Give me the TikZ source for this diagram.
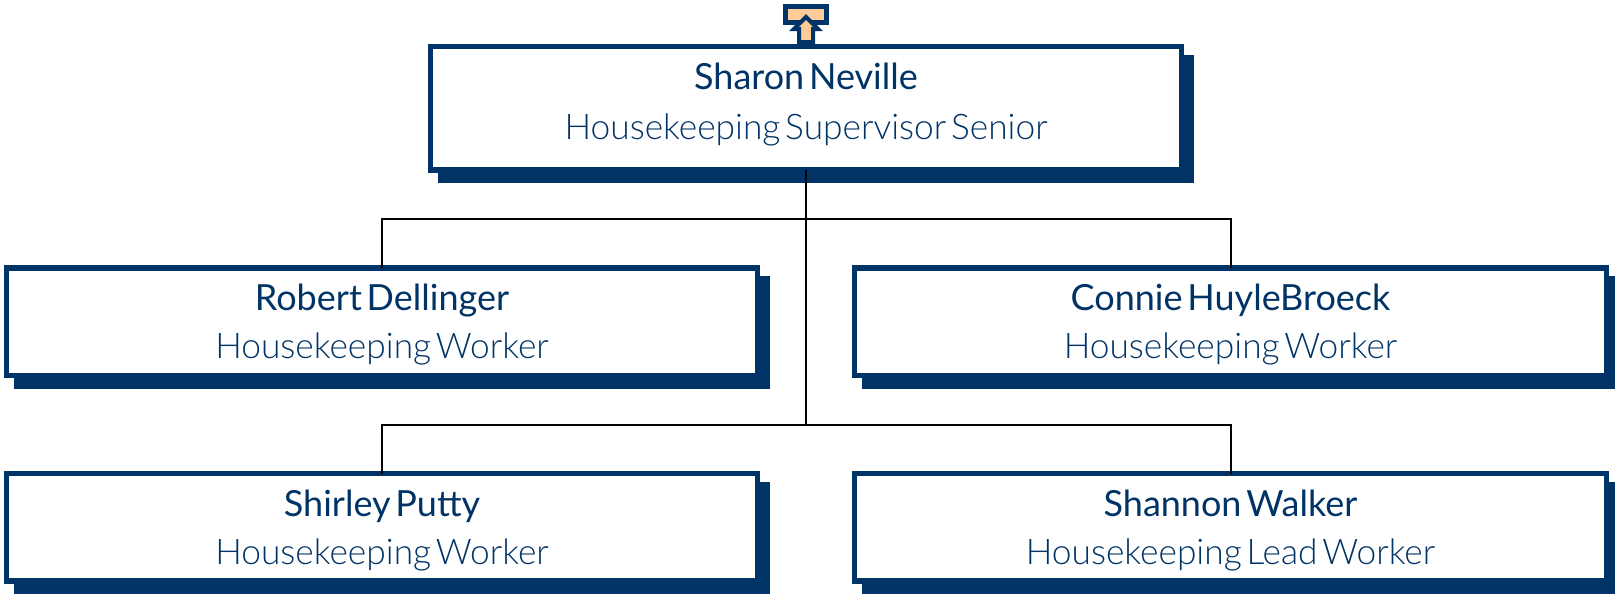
\documentclass[tikz,border=0pt]{standalone}
\usepackage{fontspec}
\usepackage{tikz}
\usetikzlibrary{matrix,shapes,positioning,calc,shadows}
\newfontfamily\namefont{Lato}
\newfontfamily\rolefont{Lato Light}
\definecolor{navy}{RGB}{0,51,102}
\definecolor{peach}{RGB}{255,204,153}
\tikzset{
  person/.style={draw=navy, fill=white, line width=5.4pt, outer sep=0pt, inner sep=0pt,
    text=navy, align=center, font=\fontsize{35.3}{48}\selectfont, text width=740pt,
    general shadow={fill=navy, draw=navy, line width=5pt, shadow xshift=10pt, shadow yshift=-10.7pt}},
  worker/.style={person, minimum height=107.5pt, text height=33pt},
  bus/.style={draw=black, line width=2pt}
}
\newcommand{\who}[3][0pt]{\spaceskip=4.8pt\relax{\namefont\fontsize{36}{48}\selectfont #2}\\[#1]{\rolefont #3}}
\begin{document}
\begin{tikzpicture}[x=1pt,y=1pt]
\useasboundingbox (0,0) rectangle (1615,-595);

\node[person, minimum height=123.5pt, minimum width=751pt, text depth=65pt, anchor=north] (sup) at (806,-46.5)
  {\who[2pt]{Sharon Neville}{Housekeeping Supervisor Senior}};

\node[worker, minimum width=751pt, anchor=north] (a) at (382,-268)
  {\who{Robert Dellinger}{Housekeeping Worker}};
\node[worker, minimum width=752pt, right=97pt of a] (b)
  {\who{Connie HuyleBroeck}{Housekeeping Worker}};
\node[worker, minimum width=751pt, below=98pt of a] (c)
  {\who{Shirley Putty}{Housekeeping Worker}};
\node[worker, minimum width=752pt, below=98pt of b] (d)
  {\who{Shannon Walker}{Housekeeping Lead Worker}};

\coordinate (upper) at ($(sup.south)!.5!(sup.south |- a.north)$);
\coordinate (lower) at ($(sup.south |- a.south)!.5!(sup.south |- c.north)$);

\draw[bus] (sup.south)--(lower);
\draw[bus] (a.north) |- (upper) -| (b.north);
\draw[bus] (c.north) |- (lower) -| (d.north);

\node[draw=navy, fill=peach, line width=5pt, outer sep=0pt, minimum width=41pt, minimum height=16pt, inner sep=0pt, anchor=north] (uplink) at (806,-6.5) {};
\draw[draw=navy, fill=peach, line width=4pt, miter limit=10]
  (uplink.south) ++(-7,-19.5) -- ++(0,13) -- ++(-5,0) -- ++(12,12) -- ++(12,-12) -- ++(-5,0) -- ++(0,-13) -- cycle;
\end{tikzpicture}
\end{document}
